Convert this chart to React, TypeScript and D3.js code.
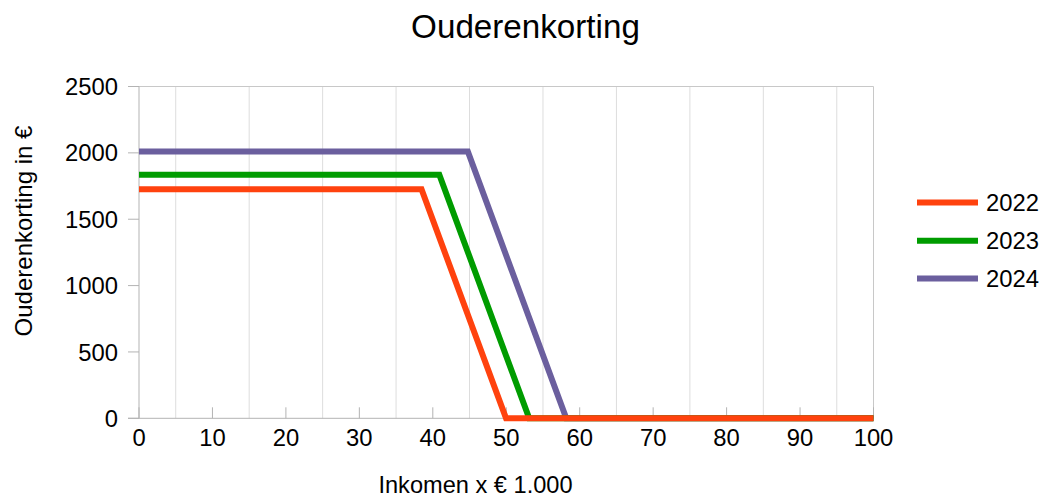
import React from "react";
import * as d3 from "d3";

const seriesNames = ["2022", "2023", "2024"];
const income2022 = [0, 38.464, 49.971, 100];
const korting2022 = [1726, 1726, 0, 0];
const income2023 = [0, 40.888, 53.121, 100];
const korting2023 = [1835, 1835, 0, 0];
const income2024 = [0, 44.77, 58.17, 100];
const korting2024 = [2010, 2010, 0, 0];
const xTicks = [0, 10, 20, 30, 40, 50, 60, 70, 80, 90, 100];
const xGrid = [5, 15, 25, 35, 45, 55, 65, 75, 85, 95];
const yTicks = [0, 500, 1000, 1500, 2000, 2500];
const colors = ["#ff420e", "#009c00", "#6b5f9e"];

const W = 1043;
const H = 498;
const left = 139;
const right = 873.5;
const top = 86.5;
const bottom = 418.3;
const font = "'Liberation Sans', Arial, sans-serif";

export default function App() {
  const x = d3.scaleLinear().domain([0, 100]).range([left, right]);
  const y = d3.scaleLinear().domain([0, 2500]).range([bottom, top]);
  const line = d3
    .line<[number, number]>()
    .x((d) => x(d[0]))
    .y((d) => y(d[1]));
  const series = [
    d3.zip(income2022, korting2022) as [number, number][],
    d3.zip(income2023, korting2023) as [number, number][],
    d3.zip(income2024, korting2024) as [number, number][],
  ];
  const legendY = [202.5, 240.7, 278.5];
  const drawOrder = [2, 1, 0];

  return (
    <svg
      width={W}
      height={H}
      style={{ position: "absolute", left: 0, top: 0, background: "#fff" }}
      fontFamily={font}
    >
      <rect x={0} y={0} width={W} height={H} fill="#fff" />
      <text x={525.5} y={38} textAnchor="middle" fontSize={33.2} fill="#000">
        Ouderenkorting
      </text>
      {xGrid.map((v) => (
        <line key={v} x1={x(v)} x2={x(v)} y1={top} y2={bottom} stroke="#dddddd" strokeWidth={1} />
      ))}
      <line x1={left - 11} x2={right} y1={top} y2={top} stroke="#c8c8c8" strokeWidth={1} />
      <line x1={right} x2={right} y1={top} y2={bottom} stroke="#c8c8c8" strokeWidth={1} />
      {yTicks.map((v) => (
        <g key={v}>
          <line x1={left - 11} x2={left} y1={y(v)} y2={y(v)} stroke="#b3b3b3" strokeWidth={1} />
          <text x={118} y={y(v) + 8.6} textAnchor="end" fontSize={23.8} fill="#000">
            {v}
          </text>
        </g>
      ))}
      {xTicks.map((v) => (
        <g key={v}>
          <line x1={x(v)} x2={x(v)} y1={bottom - 11} y2={bottom} stroke="#b3b3b3" strokeWidth={1} />
          <text x={x(v)} y={446} textAnchor="middle" fontSize={23.8} fill="#000">
            {v}
          </text>
        </g>
      ))}
      <line x1={left} x2={left} y1={top} y2={bottom} stroke="#b3b3b3" strokeWidth={1} />
      <line x1={left - 11} x2={right} y1={bottom} y2={bottom} stroke="#b3b3b3" strokeWidth={1} />
      {drawOrder.map((i) => (
        <path key={i} d={line(series[i]) || ""} fill="none" stroke={colors[i]} strokeWidth={6} strokeLinejoin="miter" />
      ))}
      {seriesNames.map((n, i) => (
        <g key={n}>
          <line x1={917} x2={978} y1={legendY[i]} y2={legendY[i]} stroke={colors[i]} strokeWidth={6} />
          <text x={986} y={legendY[i] + 8.6} fontSize={23.8} fill="#000">
            {n}
          </text>
        </g>
      ))}
      <text x={475.5} y={492.5} textAnchor="middle" fontSize={23.6} fill="#000">
        Inkomen x € 1.000
      </text>
      <text
        transform={`translate(32,231) rotate(-90)`}
        textAnchor="middle"
        fontSize={24}
        fill="#000"
      >
        Ouderenkorting in €
      </text>
    </svg>
  );
}
